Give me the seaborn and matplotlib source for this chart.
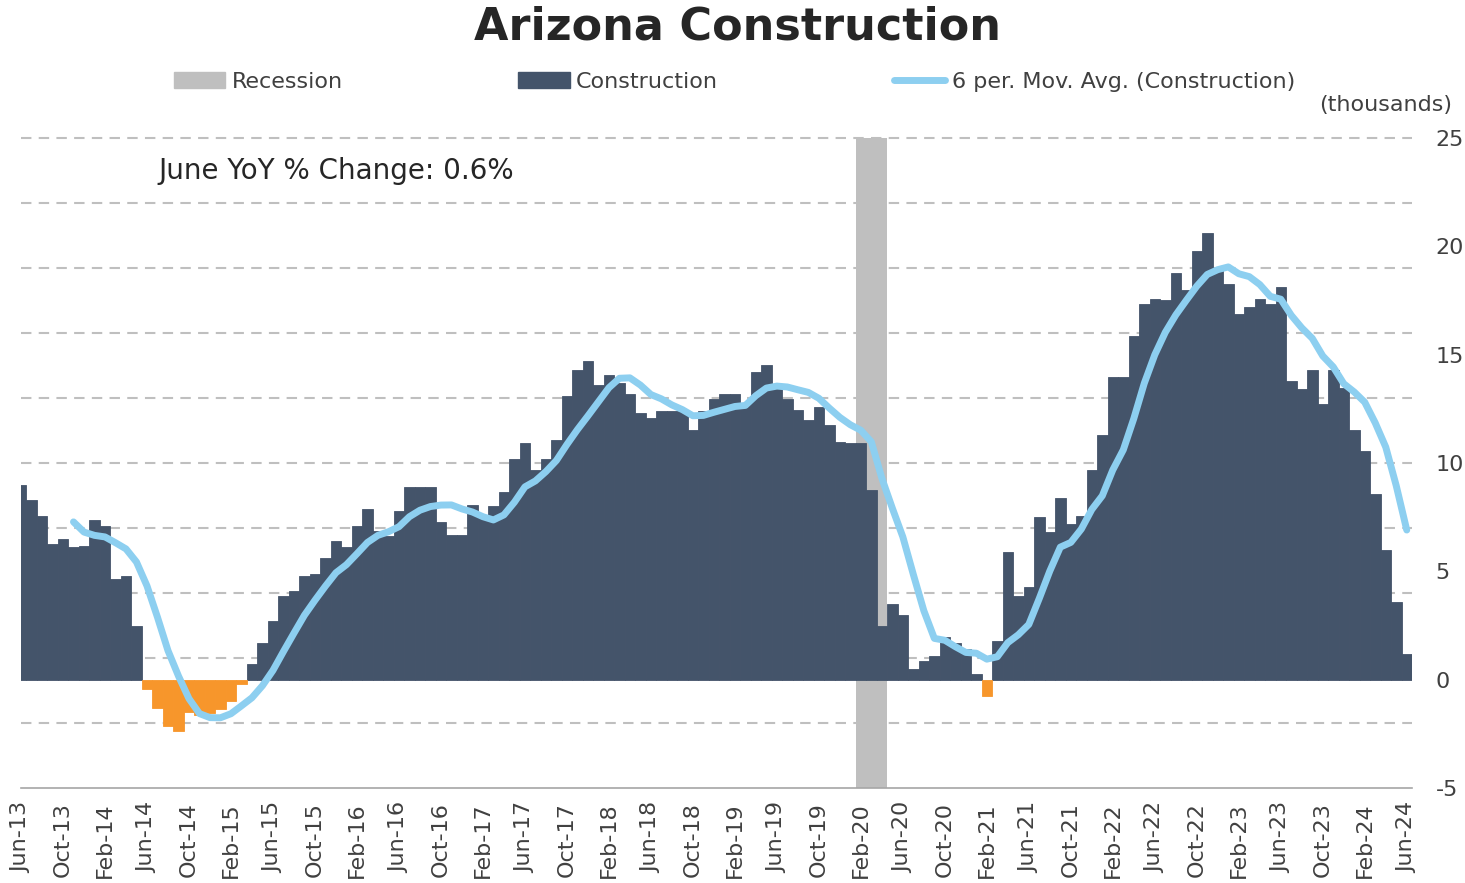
import numpy as np
import pandas as pd
import matplotlib
matplotlib.use("Agg")
import matplotlib.pyplot as plt
import seaborn as sns
from matplotlib.patches import Patch
from matplotlib.lines import Line2D

# monthly change, Jun-13 .. Jun-24 (thousands)
construction = [
    9.0, 8.28, 7.54, 6.26, 6.49, 6.12, 6.18, 7.37, 7.11, 4.66, 4.77, 2.49,
    -0.43, -1.31, -2.12, -2.38, -1.5, -1.65, -1.55, -1.35, -1.0, -0.2,
    0.74, 1.69, 2.69, 3.88, 4.08, 4.77, 4.88, 5.62, 6.38, 6.12, 7.11, 7.88,
    6.85, 6.62, 7.77, 8.9, 8.9, 8.9, 7.26, 6.66, 6.66, 8.05, 7.6, 8.0,
    8.66, 10.18, 10.9, 9.7, 10.18, 11.08, 13.08, 14.3, 14.7, 13.6, 14.08, 13.7,
    13.2, 12.3, 12.08, 12.4, 12.4, 12.4, 11.5, 12.4, 12.95, 13.2, 13.2, 12.7,
    14.2, 14.5, 13.5, 12.95, 12.43, 11.97, 12.57, 11.77, 10.95, 10.9, 10.9, 8.77,
    2.49, 3.47, 3.0, 0.49, 0.88, 1.1, 1.97, 1.7, 1.4, 0.28, -0.77, 1.77,
    5.88, 3.88, 4.26, 7.5, 6.8, 8.38, 7.19, 7.57, 9.69, 11.3, 13.95, 13.95,
    15.85, 17.35, 17.58, 17.5, 18.77, 18.0, 19.77, 20.6, 18.9, 18.26, 16.88, 17.2,
    17.58, 17.34, 18.1, 13.8, 13.4, 14.3, 12.7, 14.3, 13.46, 11.5, 10.57, 8.57,
    6.0, 3.6, 1.2,
]

tick_labels = [
    "Jun-13", "Oct-13", "Feb-14", "Jun-14", "Oct-14", "Feb-15", "Jun-15", "Oct-15",
    "Feb-16", "Jun-16", "Oct-16", "Feb-17", "Jun-17", "Oct-17", "Feb-18", "Jun-18",
    "Oct-18", "Feb-19", "Jun-19", "Oct-19", "Feb-20", "Jun-20", "Oct-20", "Feb-21",
    "Jun-21", "Oct-21", "Feb-22", "Jun-22", "Oct-22", "Feb-23", "Jun-23", "Oct-23",
    "Feb-24", "Jun-24",
]

# recession months: Feb-20 .. Apr-20 (index in the monthly series)
recession_start = 80
recession_end = 82

dark = "#44546a"
orange = "#f7962b"
gray = "#bfbfbf"
blue = "#8dcff0"
text_col = "#404040"

df = pd.DataFrame({"pos": np.arange(len(construction)), "value": construction})
df["sign"] = np.where(df["value"] < 0, "neg", "pos")
# 6 period moving average, as the Excel trendline
df["ma"] = df["value"].rolling(6).mean()

sns.set_style("white")
plt.rcParams["font.family"] = ["DejaVu Sans"]

fig = plt.figure(figsize=(14.65, 8.83), dpi=100)
ax = fig.add_axes([21 / 1465, 1 - 788 / 883, (1412 - 21) / 1465, (788 - 138) / 883])

ax.axvspan(recession_start - 0.5, recession_end + 0.5, color=gray, zorder=1, lw=0)

sns.barplot(data=df, x="pos", y="value", hue="sign", palette={"pos": dark, "neg": orange},
            native_scale=True, width=1, dodge=False, saturation=1, legend=False,
            linewidth=0, ax=ax, zorder=2)
for p in ax.patches:
    if p.get_facecolor()[:3] != matplotlib.colors.to_rgb(gray):
        p.set_edgecolor(p.get_facecolor())
        p.set_linewidth(0.6)

sns.lineplot(data=df, x="pos", y="ma", color=blue, linewidth=5, ax=ax, zorder=3,
             solid_capstyle="round")

ax.set_xlim(0, len(construction) - 0.5)
ax.set_ylim(-5, 25)
ax.set_xlabel("")
ax.set_ylabel("")

ax.set_xticks(np.arange(0, len(construction), 4))
ax.set_xticklabels(tick_labels, rotation=90, fontsize=16, color=text_col)
ax.tick_params(axis="x", length=6, width=1.2, color="#a6a6a6", pad=4)

ax.yaxis.tick_right()
ax.yaxis.remove_overlapping_locs = False
ax.set_yticks(np.arange(-5, 26, 5))
ax.set_yticklabels([str(v) for v in range(-5, 26, 5)], fontsize=16, color=text_col)
ax.tick_params(axis="y", length=0, pad=17)
ax.set_yticks(np.arange(-2, 26, 3), minor=True)
ax.tick_params(axis="y", which="minor", length=0)
ax.grid(False)
ax.grid(True, which="minor", axis="y", color=gray, linestyle=(0, (5, 3.5)), linewidth=1.5, zorder=0)
ax.set_axisbelow(True)
for t in ax.yaxis.get_minor_ticks():
    t.gridline.set_clip_on(False)

for side in ["top", "left", "right"]:
    ax.spines[side].set_visible(False)
ax.spines["bottom"].set_color("#a6a6a6")
ax.spines["bottom"].set_linewidth(1.2)

fig.text(738 / 1465, 1 - 27 / 883, "Arizona Construction", ha="center", va="center",
         fontsize=32, fontweight="bold", color="#262626")

handles = [Patch(color=gray), Patch(color=dark), Line2D([], [], color=blue, lw=5)]
labels = ["Recession", "Construction", "6 per. Mov. Avg. (Construction)"]
fig.legend(handles, labels, loc="center left", bbox_to_anchor=(174 / 1465, 1 - 82 / 883),
           ncol=3, frameon=False, fontsize=16, handlelength=2.3, handleheight=0.7,
           handletextpad=0.3, columnspacing=7.9, borderaxespad=0, borderpad=0,
           labelcolor=text_col)

fig.text(1452 / 1465, 1 - 105 / 883, "(thousands)", ha="right", va="center",
         fontsize=16, color=text_col)
ax.text(158 / 1465, 1 - 171 / 883, "June YoY % Change: 0.6%", transform=fig.transFigure,
        ha="left", va="center", fontsize=20, color="#262626")

fig.savefig("out.png", dpi=100)
